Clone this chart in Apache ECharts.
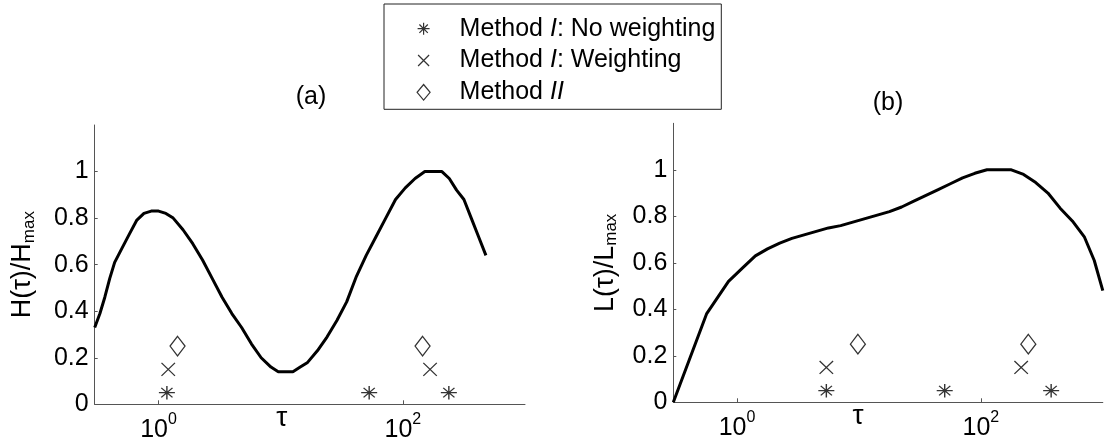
<!DOCTYPE html>
<html>
<head>
<meta charset="utf-8">
<script src="https://cdn.jsdelivr.net/npm/echarts@6/dist/echarts.min.js"></script>
<style>
  html, body { margin: 0; padding: 0; background: #fff; }
  #chart { width: 1105px; height: 447px; }
</style>
</head>
<body>
<div id="chart"></div>
<script>
// Panel (a): normalised H(tau)
const tauH = [0.30, 0.331, 0.363, 0.398, 0.437, 0.501, 0.575, 0.661, 0.759, 0.871,
  1.0, 1.148, 1.318, 1.585, 1.905, 2.291, 2.754, 3.311, 3.981, 4.786,
  5.754, 6.918, 8.318, 9.55, 10.96, 12.59, 14.45, 16.6, 19.95, 23.99,
  28.84, 34.67, 41.69, 50.12, 60.26, 72.44, 87.1, 104.7, 125.9, 151.4,
  182.0, 208.9, 239.9, 275.4, 316.2, 363.1, 416.9, 478.6];
const valH = [0.33, 0.39, 0.46, 0.54, 0.61, 0.67, 0.73, 0.79, 0.82, 0.83,
  0.83, 0.82, 0.80, 0.75, 0.69, 0.62, 0.54, 0.46, 0.39, 0.33,
  0.26, 0.20, 0.16, 0.14, 0.14, 0.14, 0.16, 0.18, 0.23, 0.29,
  0.36, 0.44, 0.55, 0.64, 0.72, 0.80, 0.88, 0.93, 0.97, 1.00,
  1.00, 1.00, 0.97, 0.92, 0.88, 0.80, 0.72, 0.64];

// Panel (b): normalised L(tau)
const tauL = [0.30, 0.562, 0.851, 1.122, 1.413, 1.778, 2.239, 2.818, 3.548, 4.467,
  5.623, 7.079, 8.913, 11.22, 14.13, 17.78, 22.39, 28.18, 35.48, 44.67,
  56.23, 70.79, 89.13, 112.2, 141.3, 177.8, 223.9, 281.8, 354.8, 446.7,
  562.3, 707.9, 851.1, 1000];
const valL = [0.00, 0.38, 0.52, 0.58, 0.63, 0.66, 0.685, 0.705, 0.72, 0.735,
  0.75, 0.76, 0.775, 0.79, 0.805, 0.82, 0.84, 0.865, 0.89, 0.915,
  0.94, 0.965, 0.985, 1.00, 1.00, 1.00, 0.98, 0.945, 0.90, 0.835,
  0.78, 0.71, 0.61, 0.48];

// Estimated time constants of the three methods, drawn at fixed heights
const levelNoWeighting = 0.05;
const levelWeighting = 0.15;
const levelMethodII = 0.25;
const noWeightingTauA = [1.17, 53, 238];
const weightingTauA = [1.2, 167];
const methodIITauA = [1.43, 145];
const noWeightingTauB = [5.4, 50.5, 377];
const weightingTauB = [5.4, 214];
const methodIITauB = [9.8, 245];

const xTickValues = [1, 100];
const yTickValues = [0, 0.2, 0.4, 0.6, 0.8, 1];
const legendNames = ['Method I: No weighting', 'Method I: Weighting', 'Method II'];

const FONT = '"Liberation Sans", Arial, Helvetica, sans-serif';

// Marker outlines in a 20x20 box (corner moves keep the box size fixed)
const ASTERISK = 'path://M0 0 M20 20 M10 4 L10 16 M4 10 L16 10 M5.8 5.8 L14.2 14.2 M5.8 14.2 L14.2 5.8';
const CROSS = 'path://M0 0 M20 20 M4.5 4.5 L15.5 15.5 M4.5 15.5 L15.5 4.5';
const DIAMOND = 'path://M0 0 M20 20 M10 2.2 L16.5 10 L10 17.8 L3.5 10 Z';

const markerStyle = { color: 'rgba(0,0,0,0)', borderColor: '#000', borderWidth: 1.3 };

function pairs(xs, ys) { return xs.map((x, i) => [x, ys[i]]); }
function level(xs, y) { return xs.map(x => [x, y]); }

function xAxisFor(gridIndex, shiftRight) {
  return {
    type: 'log', logBase: 10, gridIndex: gridIndex, min: 0.3, max: 1000,
    axisLine: { show: true, onZero: false, lineStyle: { color: '#555', width: 1 } },
    axisTick: { show: true, inside: true, length: 4, customValues: xTickValues, lineStyle: { color: '#555' } },
    axisLabel: {
      customValues: xTickValues, margin: 7, color: '#000',
      formatter: v => '{b|10}{s|' + Math.round(Math.log10(v)) + '}',
      rich: {
        b: { fontSize: 25, lineHeight: 38, fontFamily: FONT, color: '#000' },
        s: { fontSize: 16, lineHeight: 12, verticalAlign: 'top', fontFamily: FONT, color: '#000' }
      }
    },
    splitLine: { show: false },
    minorTick: { show: false },
    name: 'τ', nameLocation: 'middle', nameGap: 0, nameMoveOverlap: false,
    nameTextStyle: { fontSize: 28, fontFamily: FONT, color: '#000', padding: [0, shiftRight, 0, 0] }
  };
}

function yAxisFor(gridIndex, main, gap) {
  return {
    type: 'value', gridIndex: gridIndex, min: 0, max: 1.2,
    axisLine: { show: true, onZero: false, lineStyle: { color: '#555', width: 1 } },
    axisTick: { show: true, inside: true, length: 3, customValues: yTickValues, lineStyle: { color: '#555' } },
    axisLabel: {
      customValues: yTickValues, margin: 6, color: '#000', fontSize: 25, fontFamily: FONT,
      formatter: v => String(v)
    },
    splitLine: { show: false },
    name: '{m|' + main + '(τ)/' + main + '}{s|max}',
    nameLocation: 'middle', nameGap: gap, nameMoveOverlap: false,
    nameTextStyle: {
      rich: {
        m: { fontSize: 27, lineHeight: 30, fontFamily: FONT, color: '#000' },
        s: { fontSize: 17, lineHeight: 2, verticalAlign: 'bottom', fontFamily: FONT, color: '#000' }
      }
    }
  };
}

function panelSeries(gridIndex, curveName, xs, ys, nw, w, m2) {
  return [
    {
      type: 'line', name: curveName, xAxisIndex: gridIndex, yAxisIndex: gridIndex,
      data: pairs(xs, ys), showSymbol: false, symbol: 'none', smooth: false,
      lineStyle: { color: '#000', width: 3 }, z: 2
    },
    {
      type: 'scatter', name: legendNames[0], xAxisIndex: gridIndex, yAxisIndex: gridIndex,
      data: level(nw, levelNoWeighting), symbol: ASTERISK, symbolSize: [26.7, 22.5],
      itemStyle: markerStyle, z: 3
    },
    {
      type: 'scatter', name: legendNames[1], xAxisIndex: gridIndex, yAxisIndex: gridIndex,
      data: level(w, levelWeighting), symbol: CROSS, symbolSize: [24.5, 23.6],
      itemStyle: markerStyle, z: 3
    },
    {
      type: 'scatter', name: legendNames[2], xAxisIndex: gridIndex, yAxisIndex: gridIndex,
      data: level(m2, levelMethodII), symbol: DIAMOND, symbolSize: [23, 25],
      itemStyle: markerStyle, z: 3
    }
  ];
}

const legendLabels = {
  'Method I: No weighting': '{r|Method }{i|I}{r|: No weighting}',
  'Method I: Weighting': '{r|Method }{i|I}{r|: Weighting}',
  'Method II': '{r|Method }{i|II}'
};

const chart = echarts.init(document.getElementById('chart'), null, { renderer: 'canvas' });
chart.setOption({
  animation: false,
  backgroundColor: '#fff',
  textStyle: { fontFamily: FONT },
  grid: [
    { left: 94.7, top: 125, width: 430.3, height: 279.3, containLabel: false, outerBoundsMode: 'none' },
    { left: 673.3, top: 123.3, width: 429.5, height: 279, containLabel: false, outerBoundsMode: 'none' }
  ],
  xAxis: [xAxisFor(0, 56), xAxisFor(1, 60)],
  yAxis: [yAxisFor(0, 'H', 57), yAxisFor(1, 'L', 53)],
  legend: {
    data: legendNames,
    orient: 'vertical',
    left: 384, top: 4,
    padding: [12.2, 6, 4.5, 29],
    itemGap: 6.8,
    itemWidth: 62, itemHeight: 20,
    symbolKeepAspect: true,
    borderColor: '#222', borderWidth: 1, backgroundColor: '#fff',
    selectedMode: false,
    itemStyle: { color: 'rgba(0,0,0,0)', borderColor: '#000', borderWidth: 1.2 },
    formatter: name => legendLabels[name],
    textStyle: {
      color: '#000',
      rich: {
        r: { fontSize: 25, lineHeight: 25, fontFamily: FONT, color: '#000' },
        i: { fontSize: 25, lineHeight: 25, fontFamily: FONT, fontStyle: 'italic', color: '#000' }
      }
    }
  },
  graphic: [
    { type: 'text', x: 311, y: 97, style: { text: '(a)', fontSize: 25, fontFamily: FONT, fill: '#000', textAlign: 'center', textVerticalAlign: 'middle' } },
    { type: 'text', x: 888, y: 103, style: { text: '(b)', fontSize: 25, fontFamily: FONT, fill: '#000', textAlign: 'center', textVerticalAlign: 'middle' } }
  ],
  series: [].concat(
    panelSeries(0, 'H(τ)/Hmax', tauH, valH, noWeightingTauA, weightingTauA, methodIITauA),
    panelSeries(1, 'L(τ)/Lmax', tauL, valL, noWeightingTauB, weightingTauB, methodIITauB)
  )
});
</script>
</body>
</html>
